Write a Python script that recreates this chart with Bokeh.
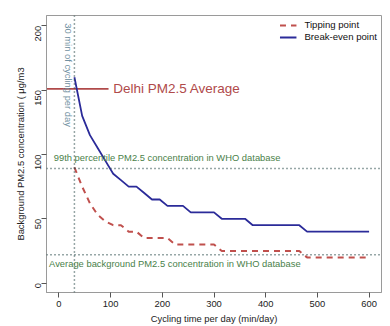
import math
from bokeh.plotting import figure
from bokeh.models import Range1d, Span, Label, Legend, LegendItem, FixedTicker
from bokeh.embed import file_html
from bokeh.resources import INLINE

# ---- data ----
minutes = [30, 45, 60, 75, 90, 105, 120, 135, 150, 165, 180, 195, 210, 225, 240,
           255, 270, 285, 300, 315, 330, 345, 360, 375, 390, 405, 420, 435, 450,
           465, 480, 495, 510, 525, 540, 555, 570, 585, 600]
break_even = [160, 130, 115, 105, 95, 85, 80, 75, 75, 70, 65, 65, 60, 60, 60,
              55, 55, 55, 55, 50, 50, 50, 50, 45, 45, 45, 45, 45, 45,
              45, 40, 40, 40, 40, 40, 40, 40, 40, 40]
tipping = [90, 75, 62, 53, 48, 45, 45, 40, 40, 35, 35, 35, 35, 30, 30,
           30, 30, 30, 30, 25, 25, 25, 25, 25, 25, 25, 25, 25, 25,
           25, 20, 20, 20, 20, 20, 20, 20, 20, 20]
delhi_avg = 151
who_p99 = 89
who_avg = 22
cycling_ref = 30
x_ticks = [0, 100, 200, 300, 400, 500, 600]
y_ticks = [0, 50, 100, 150, 200]

FONT = "Liberation Sans"
FS = "9.4px"

p = figure(width=390, height=326, output_backend="svg", toolbar_location=None,
           x_range=Range1d(-24, 624), y_range=Range1d(-7.3, 208))
p.min_border_left = 46
p.min_border_right = 9
p.min_border_top = 15
p.min_border_bottom = 34
p.background_fill_color = "white"
p.border_fill_color = "white"
p.outline_line_color = "#9a9a9a"
p.outline_line_width = 1
p.grid.visible = False

for ax in (p.xaxis[0], p.yaxis[0]):
    ax.axis_line_color = "#9a9a9a"
    ax.major_tick_line_color = "#555555"
    ax.major_tick_out = 5
    ax.major_tick_in = 0
    ax.minor_tick_line_color = None
    ax.major_label_text_font = FONT
    ax.major_label_text_font_size = FS
    ax.major_label_text_color = "#222222"
    ax.axis_label_text_font = FONT
    ax.axis_label_text_font_size = FS
    ax.axis_label_text_font_style = "normal"
    ax.axis_label_text_color = "#222222"

p.xaxis.ticker = FixedTicker(ticks=x_ticks)
p.yaxis.ticker = FixedTicker(ticks=y_ticks)
p.yaxis.major_label_orientation = math.pi / 2
p.xaxis.axis_label = "Cycling time per day (min/day)"
p.yaxis.axis_label = "Background PM2.5 concentration ( \u03bcg/m3"
p.xaxis.major_label_standoff = 3
p.yaxis.major_label_standoff = 3
p.xaxis.axis_label_standoff = 3
p.yaxis.axis_label_standoff = 4

dot_color = "#2f4f4f"
p.add_layout(Span(location=cycling_ref, dimension="height", line_color=dot_color,
                  line_dash="1 3", line_width=1.5))
p.add_layout(Span(location=who_p99, dimension="width", line_color=dot_color,
                  line_dash="1 3", line_width=1.5))
p.add_layout(Span(location=who_avg, dimension="width", line_color=dot_color,
                  line_dash="1 3", line_width=1.5))

# Delhi average marker line
p.line([-24, 96], [delhi_avg, delhi_avg], line_color="#b04a4a", line_width=1.6)

r_tip = p.line(minutes, tipping, line_color="#c0504d", line_width=2, line_dash="6 5")
r_be = p.line(minutes, break_even, line_color="#2b2b99", line_width=1.8)

p.add_layout(Label(x=105, y=delhi_avg, text="Delhi PM2.5 Average", text_font=FONT,
                   text_font_size="13.5px", text_color="#b04a4a",
                   text_baseline="middle", text_align="left"))
p.add_layout(Label(x=18, y=202, text="30 min of cycling per day", text_font=FONT,
                   text_font_size=FS, text_color="#6f8fa0", angle=-math.pi / 2,
                   text_baseline="middle", text_align="left"))
p.add_layout(Label(x=-10, y=98, text="99th percentile PM2.5 concentration in WHO database",
                   text_font=FONT, text_font_size=FS, text_color="#4a7f4a",
                   text_baseline="middle", text_align="left"))
p.add_layout(Label(x=-19, y=15, text="Average background PM2.5 concentration in WHO database",
                   text_font=FONT, text_font_size=FS, text_color="#4a7f4a",
                   text_baseline="middle", text_align="left"))

legend = Legend(items=[LegendItem(label="Tipping point", renderers=[r_tip]),
                       LegendItem(label="Break-even point", renderers=[r_be])],
                location="top_right")
legend.label_text_font = FONT
legend.label_text_font_size = "9.6px"
legend.label_text_color = "#111111"
legend.border_line_color = None
legend.background_fill_alpha = 0
legend.glyph_width = 17
legend.glyph_height = 10
legend.label_height = 10
legend.spacing = 1
legend.padding = 2
legend.margin = 4
legend.label_standoff = 8
p.add_layout(legend)

open("out.html", "w").write(file_html(p, INLINE))
